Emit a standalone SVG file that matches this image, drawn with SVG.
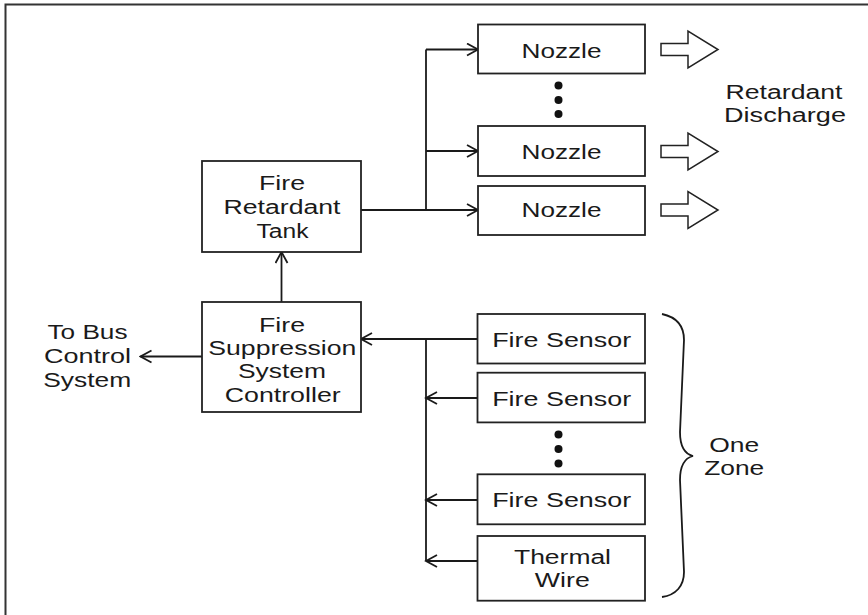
<svg xmlns="http://www.w3.org/2000/svg" width="868" height="615" viewBox="0 0 868 615">
<defs>
<style>
.box{fill:#fff;stroke:#222;stroke-width:1.8}
.ln{fill:none;stroke:#1a1a1a;stroke-width:1.8}
.t{font-family:"Liberation Sans",Arial,sans-serif;font-size:20px;fill:#1a1a1a;text-anchor:middle}
.ha{fill:#fff;stroke:#222;stroke-width:1.5;stroke-linejoin:miter}
.dot{fill:#111}
</style>
<marker id="arr" markerWidth="14" markerHeight="16" refX="12" refY="7" orient="auto" markerUnits="userSpaceOnUse">
<path d="M1,1 L12,7 L1,13" fill="none" stroke="#1a1a1a" stroke-width="1.8"/>
</marker>
</defs>
<rect width="868" height="615" fill="#fff"/>
<g id="frame">
<path d="M5.5,615 V4.5 H868" fill="none" stroke="#333" stroke-width="2"/>
</g>
<g id="connectors">
<path class="ln" d="M361,210 H426"/>
<path class="ln" d="M426,49.5 V210"/>
<path class="ln" d="M426,49.5 H478" marker-end="url(#arr)"/>
<path class="ln" d="M426,151 H478" marker-end="url(#arr)"/>
<path class="ln" d="M426,210 H478" marker-end="url(#arr)"/>
<path class="ln" d="M281.5,302 V252" marker-end="url(#arr)"/>
<path class="ln" d="M202,356.5 H140.5" marker-end="url(#arr)"/>
<path class="ln" d="M477.5,339 H361" marker-end="url(#arr)"/>
<path class="ln" d="M426,339 V561"/>
<path class="ln" d="M477.5,398 H426" marker-end="url(#arr)"/>
<path class="ln" d="M477.5,500 H426" marker-end="url(#arr)"/>
<path class="ln" d="M477.5,561 H426" marker-end="url(#arr)"/>
<polygon class="ha" points="661,43.5 688,43.5 688,31 718,49.5 688,68 688,55.5 661,55.5"/>
<polygon class="ha" points="661,145.5 688,145.5 688,133 718,151.5 688,170 688,157.5 661,157.5"/>
<polygon class="ha" points="661,204 688,204 688,191.5 718,210 688,228.5 688,216 661,216"/>
<path class="ln" stroke-width="1.5" d="M662,314 C676,317 684,326 684,340 L680,432 C680,446 685,454 693,456 C685,458 680,466 680,480 L684,572 C684,586 676,595 662,597"/>
</g>
<g id="nozzle1">
<rect class="box" x="478" y="24.5" width="167" height="49"/>
<text class="t" x="561.5" y="57.5" textLength="80" lengthAdjust="spacingAndGlyphs">Nozzle</text>
</g>
<g id="nozzle-dots">
<circle class="dot" cx="558.5" cy="85.5" r="4"/>
<circle class="dot" cx="558.5" cy="100" r="4"/>
<circle class="dot" cx="558.5" cy="114" r="4"/>
</g>
<g id="nozzle2">
<rect class="box" x="478" y="126" width="167" height="50"/>
<text class="t" x="561.5" y="158.5" textLength="80" lengthAdjust="spacingAndGlyphs">Nozzle</text>
</g>
<g id="nozzle3">
<rect class="box" x="478" y="186" width="167" height="49"/>
<text class="t" x="561.5" y="216.5" textLength="80" lengthAdjust="spacingAndGlyphs">Nozzle</text>
</g>
<g id="discharge-label">
<text class="t" x="784" y="98.5" textLength="117" lengthAdjust="spacingAndGlyphs">Retardant</text>
<text class="t" x="785" y="122" textLength="122" lengthAdjust="spacingAndGlyphs">Discharge</text>
</g>
<g id="tank">
<rect class="box" x="202" y="161" width="159" height="91"/>
<text class="t" x="282" y="190" textLength="46" lengthAdjust="spacingAndGlyphs">Fire</text>
<text class="t" x="282" y="213.5" textLength="117" lengthAdjust="spacingAndGlyphs">Retardant</text>
<text class="t" x="282.5" y="237.5" textLength="52" lengthAdjust="spacingAndGlyphs">Tank</text>
</g>
<g id="controller">
<rect class="box" x="202" y="302" width="159" height="110"/>
<text class="t" x="282" y="331.5" textLength="46" lengthAdjust="spacingAndGlyphs">Fire</text>
<text class="t" x="282.3" y="354.5" textLength="148" lengthAdjust="spacingAndGlyphs">Suppression</text>
<text class="t" x="282" y="378" textLength="88" lengthAdjust="spacingAndGlyphs">System</text>
<text class="t" x="282.7" y="401.7" textLength="116" lengthAdjust="spacingAndGlyphs">Controller</text>
</g>
<g id="bus-label">
<text class="t" x="87.5" y="338.5" textLength="80" lengthAdjust="spacingAndGlyphs">To Bus</text>
<text class="t" x="87.5" y="363" textLength="87" lengthAdjust="spacingAndGlyphs">Control</text>
<text class="t" x="87.2" y="386.5" textLength="88" lengthAdjust="spacingAndGlyphs">System</text>
</g>
<g id="sensor1">
<rect class="box" x="477.5" y="314" width="167.5" height="49.5"/>
<text class="t" x="561.7" y="347.3" textLength="139" lengthAdjust="spacingAndGlyphs">Fire Sensor</text>
</g>
<g id="sensor2">
<rect class="box" x="477.5" y="372.7" width="167.5" height="49.7"/>
<text class="t" x="561.7" y="405.7" textLength="139" lengthAdjust="spacingAndGlyphs">Fire Sensor</text>
</g>
<g id="sensor-dots">
<circle class="dot" cx="558.5" cy="434.5" r="4"/>
<circle class="dot" cx="558.5" cy="449" r="4"/>
<circle class="dot" cx="558.5" cy="463.5" r="4"/>
</g>
<g id="sensor3">
<rect class="box" x="477.5" y="474.3" width="167.5" height="50"/>
<text class="t" x="561.7" y="507.3" textLength="139" lengthAdjust="spacingAndGlyphs">Fire Sensor</text>
</g>
<g id="thermal">
<rect class="box" x="477.5" y="536" width="167.5" height="64.7"/>
<text class="t" x="562.5" y="564" textLength="97" lengthAdjust="spacingAndGlyphs">Thermal</text>
<text class="t" x="562.3" y="586.7" textLength="55" lengthAdjust="spacingAndGlyphs">Wire</text>
</g>
<g id="zone-label">
<text class="t" x="734.2" y="452.3" textLength="50" lengthAdjust="spacingAndGlyphs">One</text>
<text class="t" x="734.2" y="475" textLength="60" lengthAdjust="spacingAndGlyphs">Zone</text>
</g>
</svg>
